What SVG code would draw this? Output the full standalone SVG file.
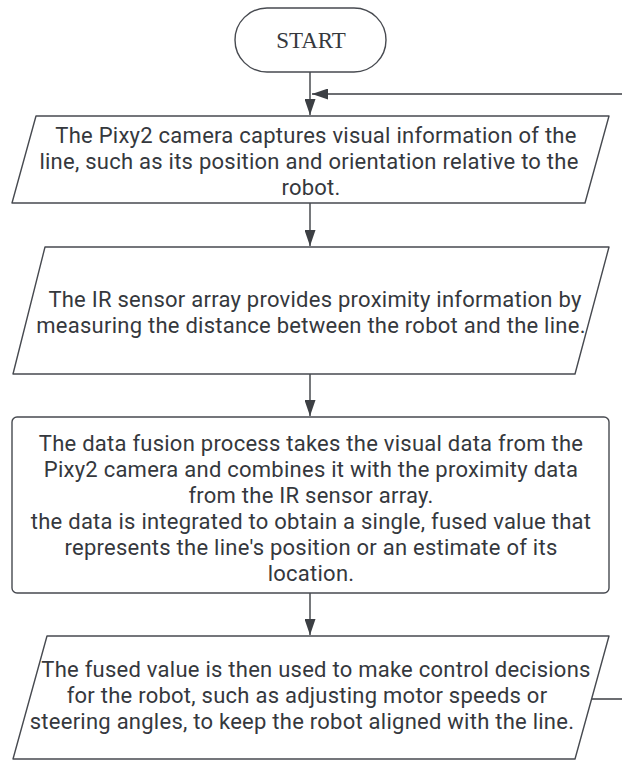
<svg xmlns="http://www.w3.org/2000/svg" width="622" height="762" viewBox="0 0 622 762">
<style>
.shape{fill:#fff;stroke:#474a50;stroke-width:1.4;stroke-linejoin:round}
.t{font-family:Roboto,"Liberation Sans",sans-serif;font-size:22px;letter-spacing:0.25px;fill:#35383d;text-anchor:middle}
.s{font-family:"Liberation Serif",serif;font-size:23px;fill:#35383d;text-anchor:middle}
.c{fill:none;stroke:#3c3f44;stroke-width:1.4}
</style>
<defs>
<marker id="ah" markerWidth="16" markerHeight="11" refX="16" refY="5.5" orient="auto" markerUnits="userSpaceOnUse" viewBox="0 0 16 11">
<path d="M0,0 L16,5.5 L0,11 Z" fill="#3c3f44"/>
</marker>
</defs>
<rect width="622" height="762" fill="#fff"/>
<g id="connectors">
<path class="c" d="M310,72 V115" marker-end="url(#ah)"/>
<path class="c" d="M592,699 H640 V94 H312" marker-end="url(#ah)"/>
<path class="c" d="M310,203 V246" marker-end="url(#ah)"/>
<path class="c" d="M310,374 V416" marker-end="url(#ah)"/>
<path class="c" d="M310,593 V635" marker-end="url(#ah)"/>
</g>
<g id="start">
<rect class="shape" x="235" y="8" width="151" height="64" rx="32" ry="32"/>
<text class="s" x="311" y="48">START</text>
</g>
<g id="camera">
<path class="shape" d="M36,116 H609 L585,203 H12 Z"/>
<text class="t" x="316" y="143">The Pixy2 camera captures visual information of the</text>
<text class="t" x="309" y="169">line, such as its position and orientation relative to the</text>
<text class="t" x="311" y="195">robot.</text>
</g>
<g id="ir">
<path class="shape" d="M45,247 H609 L575,374 H13 Z"/>
<text class="t" x="315" y="307">The IR sensor array provides proximity information by</text>
<text class="t" x="311" y="333">measuring the distance between the robot and the line.</text>
</g>
<g id="fusion">
<rect class="shape" x="12" y="417" width="597" height="176" rx="5" ry="5"/>
<text class="t" x="311" y="451">The data fusion process takes the visual data from the</text>
<text class="t" x="311" y="477">Pixy2 camera and combines it with the proximity data</text>
<text class="t" x="311" y="503">from the IR sensor array.</text>
<text class="t" x="311" y="529">the data is integrated to obtain a single, fused value that</text>
<text class="t" x="311" y="555">represents the line's position or an estimate of its</text>
<text class="t" x="311" y="581">location.</text>
</g>
<g id="control">
<path class="shape" d="M47,636 H609 L575,759 H13 Z"/>
<text class="t" x="316" y="677">The fused value is then used to make control decisions</text>
<text class="t" x="307" y="703">for the robot, such as adjusting motor speeds or</text>
<text class="t" x="302" y="729">steering angles, to keep the robot aligned with the line.</text>
</g>
</svg>
